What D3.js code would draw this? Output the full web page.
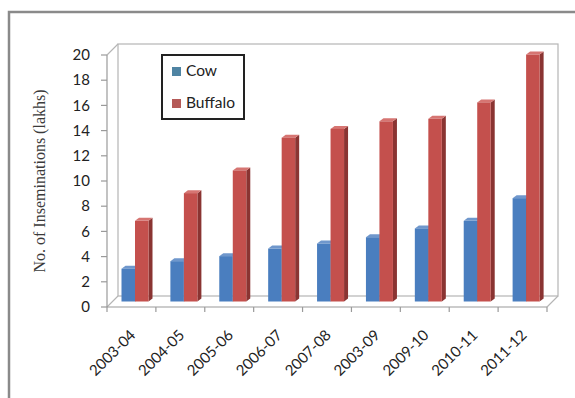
<!DOCTYPE html>
<html>
<head>
<meta charset="utf-8">
<script src="https://cdn.jsdelivr.net/npm/d3@7"></script>
<style>
  body { margin: 0; background: #fff; }
  .tick-label { font-family: Lato, "Open Sans", sans-serif; font-size: 15px; fill: #222; }
  .axis-title { font-family: "Liberation Serif", "DejaVu Serif", serif; font-size: 16px; fill: #3a3a3a; }
</style>
</head>
<body>
<div id="chart"></div>
<script>
const seasons = ["2003-04", "2004-05", "2005-06", "2006-07", "2007-08", "2003-09", "2009-10", "2010-11", "2011-12"];
const cowValues = [2.6, 3.2, 3.6, 4.2, 4.6, 5.1, 5.8, 6.4, 8.2];
const buffaloValues = [6.4, 8.6, 10.4, 13.0, 13.7, 14.3, 14.5, 15.8, 19.6];
const seriesNames = ["Cow", "Buffalo"];
const yTicks = [0, 2, 4, 6, 8, 10, 12, 14, 16, 18, 20];

const width = 575, height = 398;
const depth = 11;          // wall depth offset
const barShift = 5.5;      // bars sit half way back
const barDepth = 4;

const frontColors = { Cow: "#4a7ebf", Buffalo: "#c4504d" };
const sideColors = { Cow: "#33588a", Buffalo: "#8a3432" };
const topColors = { Cow: "#6f97cc", Buffalo: "#d67572" };
const legendColors = { Cow: "#4f84a3", Buffalo: "#b55a58" };

const svg = d3.select("#chart").append("svg")
  .attr("width", width)
  .attr("height", height);

// outer frame (top and left only visible)
svg.append("path")
  .attr("d", `M9,${height} L9,12 L${width},12`)
  .attr("fill", "none")
  .attr("stroke", "#8a8a8a")
  .attr("stroke-width", 2.5);

const x = d3.scaleBand().domain(seasons).range([107, 547]);
const y = d3.scaleLinear().domain([0, 20]).range([307, 55]);
const inner = d3.scaleBand().domain(seriesNames).range([9, 36]);

const x0 = x.range()[0], x1 = x.range()[1];
const yb = y(0), yt = y(20);

// walls
const wall = svg.append("g").attr("fill", "none").attr("stroke", "#b5b5b5").attr("stroke-width", 1.2);
wall.append("rect")
  .attr("x", x0 + depth).attr("y", yt - depth)
  .attr("width", x1 - x0).attr("height", yb - yt)
  .attr("fill", "#fff");
wall.append("path")
  .attr("d", `M${x0},${yt} L${x0 + depth},${yt - depth} M${x0},${yb} L${x0 + depth},${yb - depth} M${x1},${yb} L${x1 + depth},${yb - depth}`);

// front axes
const axisG = svg.append("g").attr("stroke", "#9a9a9a").attr("stroke-width", 1.2);
axisG.append("line").attr("x1", x0).attr("x2", x0).attr("y1", yt).attr("y2", yb);
axisG.append("line").attr("x1", x0).attr("x2", x1).attr("y1", yb).attr("y2", yb);
axisG.selectAll(".ytick").data(yTicks).enter().append("line")
  .attr("x1", x0 - 6).attr("x2", x0)
  .attr("y1", (d) => y(d)).attr("y2", (d) => y(d));
axisG.selectAll(".xtick").data(seasons.concat(["end"])).enter().append("line")
  .attr("x1", (d) => (d === "end" ? x1 : x(d)))
  .attr("x2", (d) => (d === "end" ? x1 : x(d)))
  .attr("y1", yb).attr("y2", yb + 5);

// y tick labels
svg.selectAll(".ylab").data(yTicks).enter().append("text")
  .attr("class", "tick-label")
  .attr("x", 90)
  .attr("y", (d) => y(d))
  .attr("dy", "0.35em")
  .attr("text-anchor", "end")
  .text((d) => d);

// x tick labels
svg.selectAll(".xlab").data(seasons).enter().append("text")
  .attr("class", "tick-label")
  .attr("text-anchor", "end")
  .attr("transform", (d) => `translate(${x(d) + x.bandwidth() / 2 + 5},336) rotate(-45)`)
  .text((d) => d);

// y axis title
svg.append("text")
  .attr("class", "axis-title")
  .attr("text-anchor", "middle")
  .attr("transform", "translate(45,181) rotate(-90)")
  .text("No. of Inseminations (lakhs)");

// bars
const barData = [];
seasons.forEach((s, i) => {
  barData.push({ season: s, series: "Cow", value: cowValues[i] });
  barData.push({ season: s, series: "Buffalo", value: buffaloValues[i] });
});

const bars = svg.append("g").selectAll(".bar").data(barData).enter().append("g");

bars.each(function (d) {
  const g = d3.select(this);
  const bx = x(d.season) + inner(d.series) + barShift;
  const bw = inner.bandwidth();
  const top = y(d.value) - barShift;
  const bot = yb - barShift;
  g.append("path")
    .attr("d", `M${bx + bw},${top} L${bx + bw + barDepth},${top - barDepth * 0.75} L${bx + bw + barDepth},${bot - barDepth * 0.75} L${bx + bw},${bot} Z`)
    .attr("fill", sideColors[d.series]);
  g.append("path")
    .attr("d", `M${bx},${top} L${bx + barDepth},${top - barDepth * 0.75} L${bx + bw + barDepth},${top - barDepth * 0.75} L${bx + bw},${top} Z`)
    .attr("fill", topColors[d.series]);
  g.append("rect")
    .attr("x", bx).attr("y", top)
    .attr("width", bw).attr("height", bot - top)
    .attr("fill", frontColors[d.series]);
});

// legend
const legend = svg.append("g").attr("transform", "translate(162,55)");
legend.append("rect")
  .attr("width", 82).attr("height", 64)
  .attr("fill", "#fff")
  .attr("stroke", "#222")
  .attr("stroke-width", 2);
seriesNames.forEach((name, i) => {
  legend.append("rect")
    .attr("x", 10).attr("y", 12 + i * 32)
    .attr("width", 9).attr("height", 9)
    .attr("fill", legendColors[name]);
  legend.append("text")
    .attr("class", "tick-label")
    .style("font-size", "15.5px")
    .attr("x", 24).attr("y", 21 + i * 32)
    .text(name);
});
</script>
</body>
</html>
